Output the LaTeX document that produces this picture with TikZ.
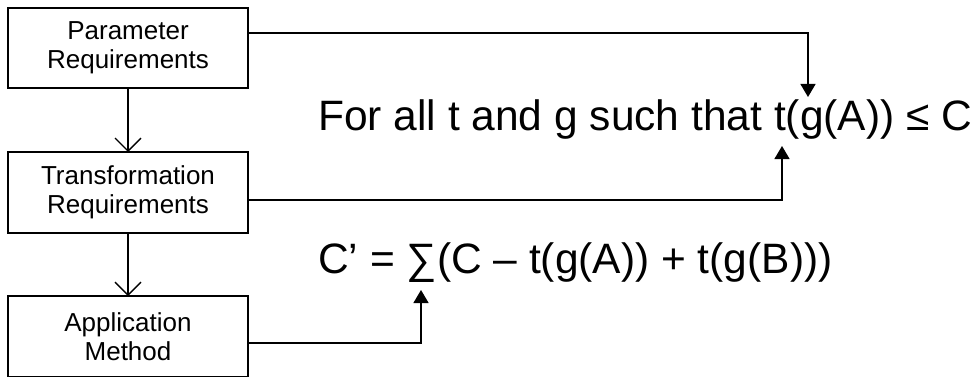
\documentclass[tikz,border=0pt]{standalone}
\usepackage{fontspec}
\setmainfont{Liberation Sans}
\usetikzlibrary{arrows.meta}
\tikzset{
  box/.style={draw, line width=1.5pt, minimum width=240pt, minimum height=80pt, inner sep=0pt, outer sep=0pt, align=center, font=\fontsize{26}{29}\selectfont},
  bigtext/.style={inner sep=0pt, anchor=base west, font=\fontsize{42.5}{48}\selectfont},
  openarrow/.style={line width=1.3pt, -{Straight Barb[length=13pt,width=26pt,line width=1.3pt]}},
  fillarrow/.style={line width=1.3pt, -{Triangle[length=13pt,width=15pt]}}
}
\begin{document}
\begin{tikzpicture}[x=1pt,y=-1pt]
\useasboundingbox (0,0) rectangle (976,377);
\node[box, minimum height=80pt] (b1) at (128,48) {Parameter\\Requirements};
\node[box, minimum height=81pt] (b2) at (128,192.5) {Transformation\\Requirements};
\node[box, minimum height=81pt] (b3) at (128,336.5) {Application\\Method};
\node[bigtext] (t1) at (318,130) {For all t and g such that t(g(A)) ≤ C};
\node[bigtext] (t2) at (318,273) {C’ = ∑(C – t(g(A)) + t(g(B)))};
\coordinate (tip1) at (808,97);
\coordinate (tip2) at (782,146);
\coordinate (tip3) at (421,290);
\draw[openarrow] (b1) -- (b2);
\draw[openarrow] (b2) -- (b3);
\draw[fillarrow] (b1.east |- 0,33) -| (tip1);
\draw[fillarrow] (b2.east |- 0,200) -| (tip2);
\draw[fillarrow] (b3.east |- 0,343) -| (tip3);
\end{tikzpicture}
\end{document}
